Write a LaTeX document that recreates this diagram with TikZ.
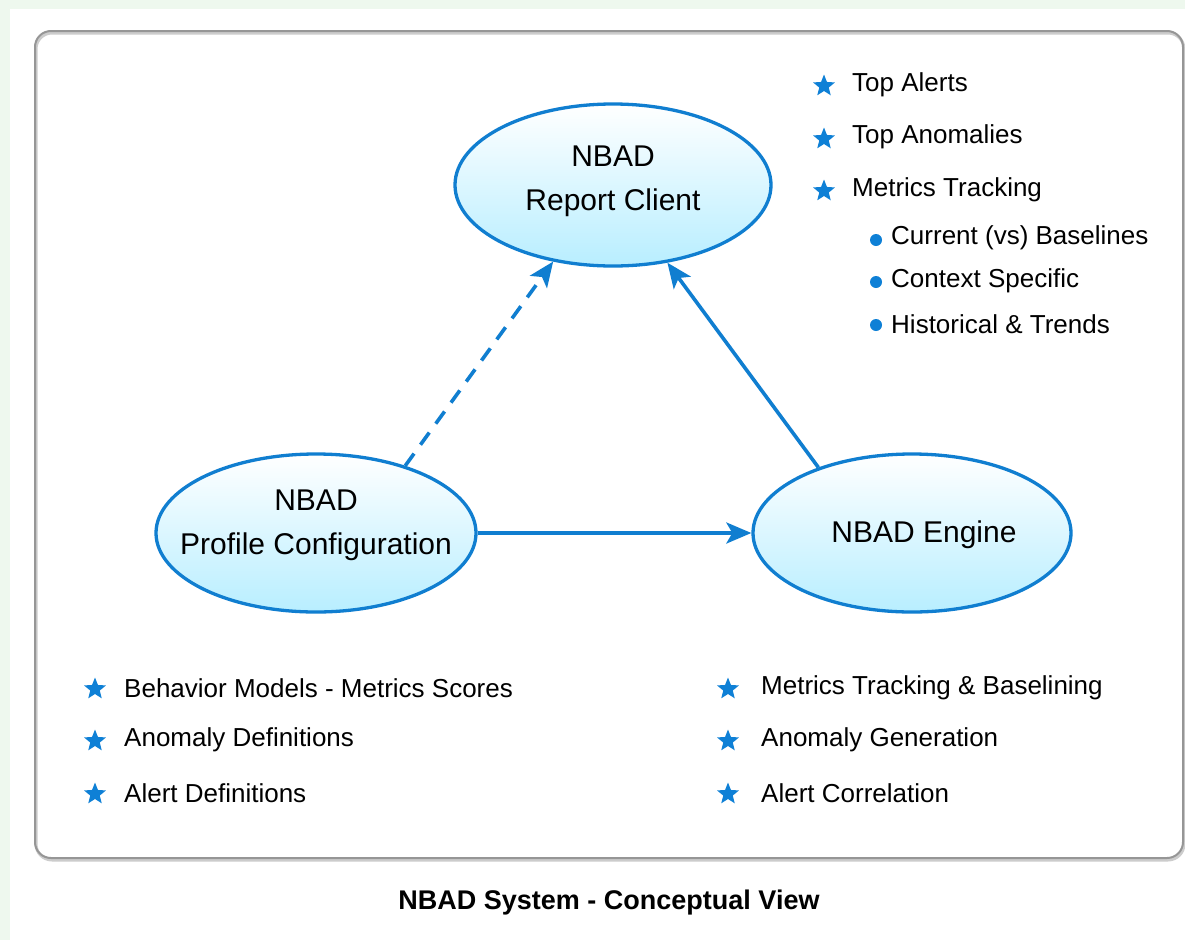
\documentclass[tikz,border=0pt]{standalone}
\usepackage{fontspec}
\setmainfont{Liberation Sans}
\usetikzlibrary{shapes.geometric,arrows.meta}
\definecolor{bgreen}{RGB}{238,248,238}
\definecolor{nblue}{RGB}{16,126,208}
\definecolor{sblue}{RGB}{14,128,214}
\definecolor{ncyan}{RGB}{184,238,255}
\definecolor{fgray}{RGB}{150,150,150}
\tikzset{
  oval/.style={ellipse, draw=nblue, line width=3.3pt, top color=white, bottom color=ncyan,
    inner sep=0pt},
  ovaltext/.style={align=center, inner sep=0pt, font=\fontsize{30}{44}\selectfont},
  conn/.style={draw=nblue, line width=3.6pt, -{Stealth[length=25pt,width=21pt,inset=6pt]}},
  dashconn/.style={conn, dash pattern=on 15pt off 11pt},
  item/.style={anchor=west, inner sep=0pt, font=\fontsize{26}{30}\selectfont},
  starmark/.style={star, star points=5, star point ratio=2.3, fill=sblue, draw=none,
    minimum size=23pt, inner sep=0pt},
  dotmark/.style={circle, fill=sblue, draw=none, minimum size=12pt, inner sep=0pt},
}
\begin{document}
\begin{tikzpicture}[x=1pt,y=-1pt]
\useasboundingbox (0,0) rectangle (1185,940);
\fill[bgreen] (0,0) rectangle (1185,940);
\fill[white] (10,9) rectangle (1185,940);
% frame
\draw[gray!40, line width=3pt, rounded corners=16pt] (36,33) rectangle (1184,860);
\draw[fgray, line width=2pt, rounded corners=16pt] (35,31) rectangle (1183,858);

% ellipses
\node[oval, minimum width=316pt, minimum height=162pt] (rep) at (613,185) {};
\node[ovaltext] (rept) at (613,181) {NBAD\\Report Client};
\node[oval, minimum width=320pt, minimum height=158pt] (prof) at (316,533) {};
\node[ovaltext] (proft) at (316,525) {NBAD\\Profile Configuration};
\node[oval, minimum width=318pt, minimum height=158pt] (eng) at (912,533) {};
\node[ovaltext] (engt) at (924,535) {NBAD Engine};

% connectors
\draw[dashconn] (prof.37) -- (rep.-128);
\draw[conn] (eng.145) -- (rep.-55);
\draw[conn] (prof.east) -- (eng.west);

% top-right list
\node[starmark] (s1) at (824,86) {};
\node[item] (t1) at (852,85) {Top Alerts};
\node[starmark] (s2) at (824,139) {};
\node[item] (t2) at (852,137) {Top Anomalies};
\node[starmark] (s3) at (824,191) {};
\node[item] (t3) at (852,190) {Metrics Tracking};
\node[dotmark] (d1) at (876,240) {};
\node[item] (u1) at (891,238) {Current (vs) Baselines};
\node[dotmark] (d2) at (876,282) {};
\node[item] (u2) at (891,281) {Context Specific};
\node[dotmark] (d3) at (876,325) {};
\node[item] (u3) at (891,324) {Historical \& Trends};

% bottom-left list
\node[starmark] (b1) at (95,689) {};
\node[item] (bt1) at (124,688) {Behavior Models - Metrics Scores};
\node[starmark] (b2) at (95,741) {};
\node[item] (bt2) at (124,740) {Anomaly Definitions};
\node[starmark] (b3) at (95,794) {};
\node[item] (bt3) at (124,793) {Alert Definitions};

% bottom-right list
\node[starmark] (c1) at (728,689) {};
\node[item] (ct1) at (761,688) {Metrics Tracking \& Baselining};
\node[starmark] (c2) at (728,741) {};
\node[item] (ct2) at (761,740) {Anomaly Generation};
\node[starmark] (c3) at (728,794) {};
\node[item] (ct3) at (761,793) {Alert Correlation};

% title
\node[font=\fontsize{27}{30}\selectfont\bfseries, inner sep=0pt] (title) at (609,903) {NBAD System - Conceptual View};
\end{tikzpicture}
\end{document}
